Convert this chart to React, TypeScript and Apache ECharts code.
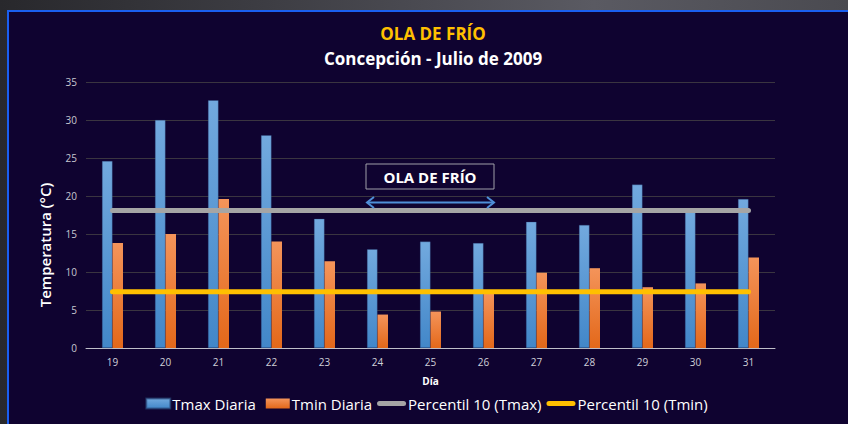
import { useEffect, useRef } from 'react';
import * as echarts from 'echarts';

const days = ['19', '20', '21', '22', '23', '24', '25', '26', '27', '28', '29', '30', '31'];
const tmaxDiaria = [24.6, 30.0, 32.6, 28.0, 17.0, 13.0, 14.0, 13.8, 16.6, 16.2, 21.5, 18.0, 19.6];
const tminDiaria = [13.8, 15.0, 19.6, 14.0, 11.4, 4.4, 4.8, 7.3, 9.9, 10.5, 8.0, 8.5, 11.9];
const percentil10Tmax = [18.1, 18.1, 18.1, 18.1, 18.1, 18.1, 18.1, 18.1, 18.1, 18.1, 18.1, 18.1, 18.1];
const percentil10Tmin = [7.4, 7.4, 7.4, 7.4, 7.4, 7.4, 7.4, 7.4, 7.4, 7.4, 7.4, 7.4, 7.4];
const seriesNames = ['Tmax Diaria', 'Tmin Diaria', 'Percentil 10 (Tmax)', 'Percentil 10 (Tmin)'];

const FONT = '"Open Sans", "Noto Sans", sans-serif';
const LINE_ICON =
  'path://M0,0 M29,10 M2.5,2.5 L26.5,2.5 A2.5,2.5 0 0 1 26.5,7.5 L2.5,7.5 A2.5,2.5 0 0 1 2.5,2.5 Z';
const BAR_ICON = 'path://M0,0 M29,10 M5,0 L29,0 L29,10 L5,10 Z';

export default function App() {
  const ref = useRef<HTMLDivElement>(null);
  useEffect(() => {
    const chart = echarts.init(ref.current!, null, { renderer: 'svg' });
    const blueGrad = new echarts.graphic.LinearGradient(0, 0, 0, 1, [
      { offset: 0, color: '#72a9de' },
      { offset: 1, color: '#4287c9' },
    ]);
    const orangeGrad = new echarts.graphic.LinearGradient(0, 0, 0, 1, [
      { offset: 0, color: '#f4945a' },
      { offset: 1, color: '#e3681a' },
    ]);
    chart.setOption({
      animation: false,
      backgroundColor: 'transparent',
      textStyle: { fontFamily: FONT },
      grid: { left: 86, right: 73, top: 82, bottom: 76, containLabel: false },
      legend: {
        data: [
          { name: seriesNames[0], icon: BAR_ICON },
          { name: seriesNames[1], icon: BAR_ICON },
          { name: seriesNames[2], icon: LINE_ICON },
          { name: seriesNames[3], icon: LINE_ICON },
        ],
        top: 391,
        left: 'center',
        itemWidth: 29,
        itemHeight: 10,
        itemGap: 5,
        textStyle: { color: '#ffffff', fontSize: 15, fontFamily: FONT, padding: [0, 0, 0, -3] },
      },
      xAxis: {
        type: 'category',
        data: days,
        name: 'Día',
        nameLocation: 'middle',
        nameGap: 28,
        nameTextStyle: { color: '#ffffff', fontSize: 10, fontWeight: 'bold', fontFamily: FONT },
        axisLine: { lineStyle: { color: '#bfbfc8', width: 1 } },
        axisTick: { show: false },
        axisLabel: { color: '#d0d0d8', fontSize: 10, margin: 9, fontFamily: FONT },
      },
      yAxis: {
        type: 'value',
        min: 0,
        max: 35,
        interval: 5,
        axisLine: { show: false },
        axisTick: { show: false },
        axisLabel: { color: '#c8c8d0', fontSize: 10, margin: 9, fontFamily: FONT },
        splitLine: { lineStyle: { color: '#3a3540', width: 1 } },
      },
      series: [
        {
          name: seriesNames[0],
          type: 'bar',
          data: tmaxDiaria,
          barWidth: 10.5,
          barGap: '0%',
          itemStyle: { color: blueGrad, borderColor: 'rgba(40,70,120,0.6)', borderWidth: 0.5 },
          z: 2,
        },
        {
          name: seriesNames[1],
          type: 'bar',
          data: tminDiaria,
          barWidth: 10.5,
          barGap: '0%',
          itemStyle: { color: orangeGrad },
          z: 2,
        },
        {
          name: seriesNames[2],
          type: 'line',
          data: percentil10Tmax,
          symbol: 'none',
          itemStyle: { color: '#a5a5a5' },
          lineStyle: { color: '#a5a5a5', width: 5, cap: 'round' },
          z: 5,
        },
        {
          name: seriesNames[3],
          type: 'line',
          data: percentil10Tmin,
          symbol: 'none',
          itemStyle: { color: '#ffc000' },
          lineStyle: { color: '#ffc000', width: 5, cap: 'round' },
          z: 5,
        },
      ],
      graphic: [
        {
          type: 'text',
          x: 433,
          y: 33,
          style: {
            text: 'OLA DE FRÍO',
            fill: '#ffc000',
            font: `bold 17px ${FONT}`,
            textAlign: 'center',
            textVerticalAlign: 'middle',
          },
        },
        {
          type: 'text',
          x: 433,
          y: 58,
          style: {
            text: 'Concepción - Julio de 2009',
            fill: '#ffffff',
            font: `bold 17px ${FONT}`,
            textAlign: 'center',
            textVerticalAlign: 'middle',
          },
        },
        {
          type: 'text',
          x: 45,
          y: 245,
          rotation: Math.PI / 2,
          style: {
            text: 'Temperatura (°C)',
            fill: '#ffffff',
            font: `600 15px ${FONT}`,
            textAlign: 'center',
            textVerticalAlign: 'middle',
          },
        },
        {
          type: 'rect',
          shape: { x: 366, y: 164, width: 128, height: 25 },
          style: { fill: '#0f0330', stroke: '#a0a0a8', lineWidth: 1 },
          z: 10,
        },
        {
          type: 'text',
          x: 430,
          y: 177,
          style: {
            text: 'OLA DE FRÍO',
            fill: '#ffffff',
            font: `bold 15px ${FONT}`,
            textAlign: 'center',
            textVerticalAlign: 'middle',
          },
          z: 11,
        },
        {
          type: 'line',
          shape: { x1: 367, y1: 202.5, x2: 494, y2: 202.5 },
          style: { stroke: '#4f8fd8', lineWidth: 2 },
          z: 10,
        },
        {
          type: 'polyline',
          shape: { points: [[374, 197], [367, 202.5], [374, 208]] },
          style: { stroke: '#4f8fd8', lineWidth: 2, fill: 'none' },
          z: 10,
        },
        {
          type: 'polyline',
          shape: { points: [[487, 197], [494, 202.5], [487, 208]] },
          style: { stroke: '#4f8fd8', lineWidth: 2, fill: 'none' },
          z: 10,
        },
      ],
    });
    return () => chart.dispose();
  }, []);

  return (
    <div
      style={{
        position: 'fixed',
        left: 0,
        top: 0,
        width: 848,
        height: 424,
        overflow: 'hidden',
        background: 'linear-gradient(to right, #28282c 0%, #3c3c42 30%, #5a5a62 70%, #4a4a50 100%)',
      }}
    >
      <div
        style={{
          position: 'absolute',
          left: 7,
          top: 10,
          width: 860,
          height: 430,
          background: '#0f0330',
          borderTop: '2px solid #1a5ff0',
          borderLeft: '2px solid #1a5ff0',
        }}
      />
      <div ref={ref} style={{ position: 'absolute', left: 0, top: 0, width: 848, height: 424 }} />
    </div>
  );
}
